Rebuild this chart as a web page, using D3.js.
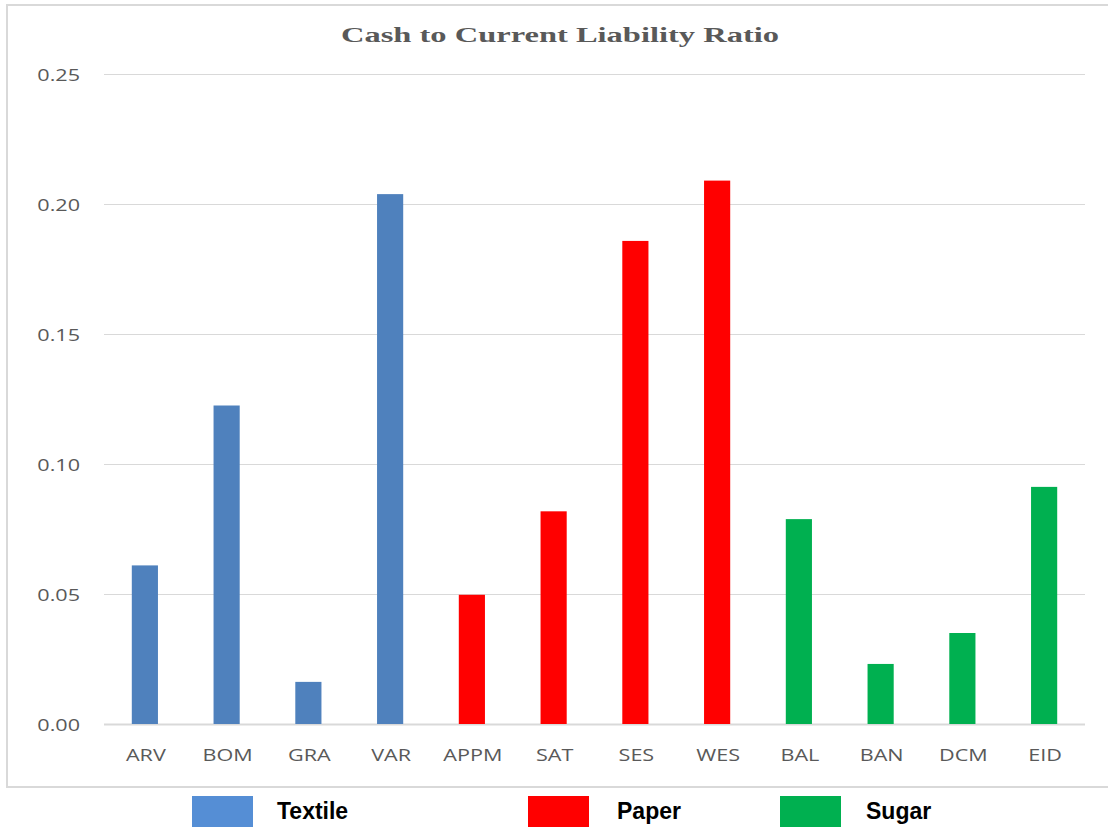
<!DOCTYPE html>
<html>
<head>
<meta charset="utf-8">
<script src="https://cdn.jsdelivr.net/npm/d3@7/dist/d3.min.js"></script>
<style>
  html, body { margin: 0; padding: 0; background: #fff; }
  svg { display: block; }
</style>
</head>
<body>
<svg id="chart" width="1108" height="827"></svg>
<script>
// Company codes along the x axis
const companies = ["ARV", "BOM", "GRA", "VAR", "APPM", "SAT", "SES", "WES", "BAL", "BAN", "DCM", "EID"];
// Sector each company belongs to
const sectors = ["Textile", "Textile", "Textile", "Textile", "Paper", "Paper", "Paper", "Paper", "Sugar", "Sugar", "Sugar", "Sugar"];
// Cash to current liability ratio per company
const ratios = [0.061, 0.1225, 0.0162, 0.2038, 0.0497, 0.0818, 0.1858, 0.2090, 0.0788, 0.0231, 0.0350, 0.0912];
// Y axis tick values
const yTicks = [0, 0.05, 0.10, 0.15, 0.20, 0.25];
// Legend entries
const legendNames = ["Textile", "Paper", "Sugar"];

const barColor = { Textile: "#4F81BD", Paper: "#FF0000", Sugar: "#00B050" };
const swatchColor = { Textile: "#558ED5", Paper: "#FF0000", Sugar: "#00B050" };

const svg = d3.select("#chart");

// Outer frame of the chart area
svg.append("rect")
  .attr("x", 7).attr("y", 5)
  .attr("width", 1110).attr("height", 782)
  .attr("fill", "none")
  .attr("stroke", "#d9d9d9")
  .attr("stroke-width", 2);

const plot = { left: 104, right: 1085, top: 74, bottom: 724 };

const x = d3.scaleBand()
  .domain(companies)
  .range([plot.left, plot.right])
  .paddingInner(0.68)
  .paddingOuter(0.34);

const y = d3.scaleLinear()
  .domain([0, 0.25])
  .range([plot.bottom, plot.top]);

// Title
svg.append("text")
  .attr("x", 341).attr("y", 42)
  .attr("textLength", 438)
  .attr("lengthAdjust", "spacingAndGlyphs")
  .attr("font-family", "'Liberation Serif', 'Times New Roman', serif")
  .attr("font-weight", "bold")
  .attr("font-size", 22)
  .attr("fill", "#595959")
  .text("Cash to Current Liability Ratio");

// Horizontal gridlines
const yAxis = d3.axisLeft(y)
  .tickValues(yTicks)
  .tickSize(-(plot.right - plot.left))
  .tickFormat(d3.format(".2f"));

const gy = svg.append("g")
  .attr("transform", `translate(${plot.left},0)`)
  .call(yAxis);
gy.select(".domain").remove();
gy.selectAll(".tick line")
  .attr("stroke", "#d9d9d9")
  .attr("stroke-width", 1);
gy.selectAll(".tick text")
  .attr("x", 0)
  .attr("dy", null)
  .attr("text-anchor", "end")
  .attr("font-family", "'Open Sans', sans-serif")
  .attr("font-size", 17)
  .attr("fill", "#595959")
  .attr("transform", function(d) { return `translate(-24,${y(d) + 6}) scale(1.27,1) translate(0,${-y(d)})`; });

// Baseline at zero
svg.append("line")
  .attr("x1", plot.left).attr("x2", plot.right)
  .attr("y1", y(0) + 0.5).attr("y2", y(0) + 0.5)
  .attr("stroke", "#d9d9d9")
  .attr("stroke-width", 2);

// Bars
svg.append("g")
  .selectAll("rect")
  .data(companies)
  .join("rect")
  .attr("x", (d) => x(d))
  .attr("width", x.bandwidth())
  .attr("y", (d, i) => y(ratios[i]))
  .attr("height", (d, i) => y(0) - y(ratios[i]))
  .attr("fill", (d, i) => barColor[sectors[i]]);

// Category labels
const xAxis = d3.axisBottom(x).tickSize(0).tickPadding(0);
const gx = svg.append("g")
  .attr("transform", `translate(0,${plot.bottom})`)
  .call(xAxis);
gx.select(".domain").remove();
gx.selectAll(".tick text")
  .attr("y", 0)
  .attr("dy", null)
  .attr("font-family", "'Open Sans', sans-serif")
  .attr("font-size", 17)
  .attr("fill", "#595959")
  .attr("transform", "translate(1,37) scale(1.27,1)");

// Legend below the frame
const legendSwatchX = [192, 528, 780];
const legendTextX = [277, 617, 866];
const legend = svg.append("g");
legendNames.forEach((name, i) => {
  legend.append("rect")
    .attr("x", legendSwatchX[i]).attr("y", 796)
    .attr("width", 61).attr("height", 34)
    .attr("fill", swatchColor[name]);
  legend.append("text")
    .attr("x", legendTextX[i]).attr("y", 819)
    .attr("font-family", "'Liberation Sans', Arial, sans-serif")
    .attr("font-weight", "bold")
    .attr("font-size", 23)
    .attr("fill", "#000")
    .text(name);
});
</script>
</body>
</html>
